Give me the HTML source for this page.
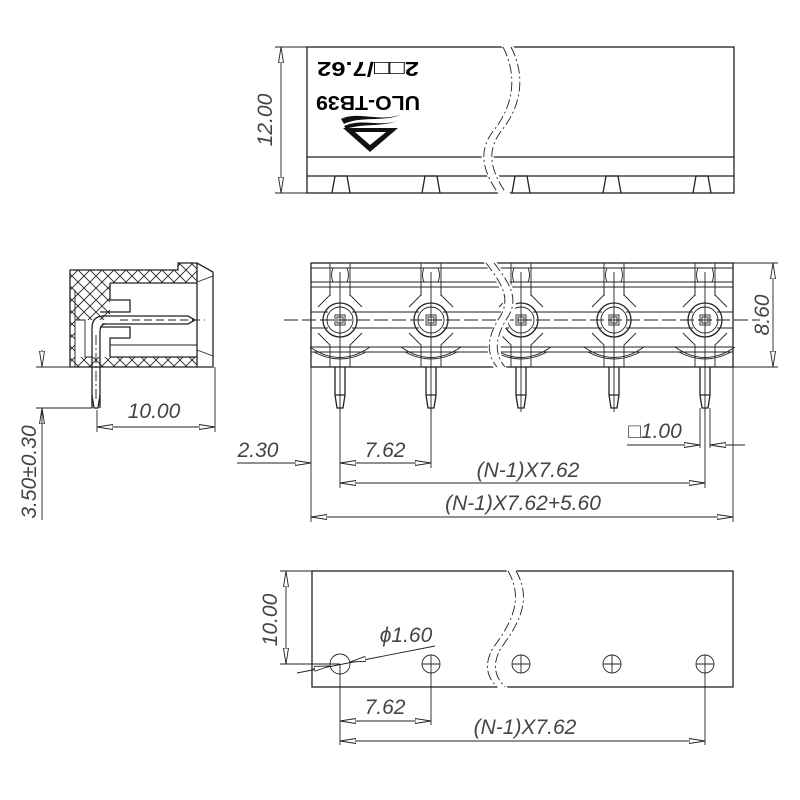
<!DOCTYPE html>
<html><head><meta charset="utf-8"><style>
html,body{margin:0;padding:0;background:#fff;}
svg{display:block;}
.l{stroke:#222;stroke-width:1.3;fill:none;}
.t{stroke:#222;stroke-width:0.9;fill:none;}
.d{font-family:"Liberation Sans",sans-serif;font-size:21px;fill:#444;font-style:italic;}
</style></head><body>
<svg width="800" height="800" viewBox="0 0 800 800" xmlns="http://www.w3.org/2000/svg">
<defs>
<marker id="a" viewBox="0 0 16 6" refX="16" refY="3" markerWidth="16" markerHeight="6" markerUnits="userSpaceOnUse" orient="auto-start-reverse">
<path d="M0,0.5 L16,3 L0,5.5 Z" fill="#fff" stroke="#222" stroke-width="0.9"/>
</marker>
<pattern id="h" width="12" height="12" patternUnits="userSpaceOnUse">
<path d="M0,0 L12,12 M12,0 L0,12" stroke="#222" stroke-width="0.9"/>
</pattern>
</defs>

<!-- TOP VIEW -->
<rect x="307" y="47" width="427" height="146" class="l"/>
<line x1="307" y1="157" x2="734" y2="157" class="l"/>
<line x1="307" y1="176" x2="734" y2="176" class="l"/>
<g class="l">
<path d="M332,193 L335,176 L347,176 L350,193"/>
<path d="M422,193 L425,176 L437,176 L440,193"/>
<path d="M512,193 L515,176 L527,176 L530,193"/>
<path d="M603,193 L606,176 L618,176 L621,193"/>
<path d="M693,193 L696,176 L708,176 L711,193"/>
</g>
<path d="M500,44 C525,80 510,110 492,130 C475,150 480,170 500,196 L512,196 C492,170 487,150 504,130 C522,110 537,80 512,44 Z" fill="#fff" stroke="none"/>
<path d="M503,47 C520,80 510,110 494,130 C478,150 482,170 498,193" class="t" stroke-dasharray="10,3,2,3"/>
<path d="M511,47 C528,80 518,110 502,130 C486,150 490,170 506,193" class="t" stroke-dasharray="10,3,2,3"/>
<line x1="275" y1="47" x2="307" y2="47" class="t"/>
<line x1="275" y1="193" x2="307" y2="193" class="t"/>
<line x1="281" y1="47" x2="281" y2="193" class="t" marker-start="url(#a)" marker-end="url(#a)"/>
<text class="d" transform="translate(272,120) rotate(-90)" text-anchor="middle" font-style="normal">12.00</text>
<g transform="rotate(180 368 86)">
<text x="368" y="76" text-anchor="middle" font-family="Liberation Sans,sans-serif" font-weight="bold" font-size="20" textLength="104" lengthAdjust="spacingAndGlyphs">ULO-TB39</text>
<text x="368" y="110" text-anchor="middle" font-family="Liberation Sans,sans-serif" font-weight="bold" font-size="20" textLength="102" lengthAdjust="spacingAndGlyphs">2□□/7.62</text>
</g>
<g fill="#111">
<path d="M343,128 L398,128 L370,152 Z M355,132 L386,132 L370,145 Z" fill-rule="evenodd"/>
<path d="M341,119 C358,111 378,122 400,115 C384,122 360,116 344,124 Z"/>
<path d="M344,126 C362,118 378,127 398,121 C382,127 362,123 346,129 Z"/>
</g>

<!-- SIDE VIEW -->
<path d="M70,270 L178,270 L178,263 L197,263 L197,367 L70,367 Z" fill="url(#h)" stroke="none"/>
<rect x="110" y="283" width="87" height="74" fill="#fff"/>
<rect x="75" y="320" width="35" height="37" fill="#fff"/>
<path d="M70,270 L178,270 L178,263 L197,263 L213,272 L213,367 L70,367 Z" class="l"/>
<line x1="197" y1="263" x2="197" y2="367" class="l"/>
<path d="M110,283 L197,283 M110,357 L197,357 M110,283 L110,300 L130,300 L130,312 L100,312" class="l"/>
<path d="M100,327 L130,327 L130,338 L110,338 L110,357" class="l"/>
<path d="M75,290 L75,367 M75,320 L85,320 L85,357 L92,357" class="t"/>
<path d="M110,345 L197,345 M197,282 L213,276 M197,350 L213,356" class="t"/>
<path d="M102,316 L188,316 L195,320 L188,324 L102,324" class="l" fill="#fff"/>
<path d="M92,408 L92,328 Q92,316 104,316 M100,408 L100,332 Q100,324 106,324" class="l"/>
<path d="M92,395 L94,408 L98,408 L100,395" class="l"/>
<line x1="120" y1="320" x2="205" y2="320" class="t" stroke-dasharray="8,4"/>
<line x1="96" y1="335" x2="96" y2="400" class="t" stroke-dasharray="10,3,2,3"/>
<line x1="36" y1="367" x2="70" y2="367" class="t"/>
<line x1="36" y1="408" x2="92" y2="408" class="t"/>
<line x1="42" y1="350" x2="42" y2="367" class="t" marker-end="url(#a)"/>
<line x1="42" y1="425" x2="42" y2="408" class="t" marker-end="url(#a)"/>
<line x1="42" y1="408" x2="42" y2="520" class="t"/>
<text class="d" transform="translate(36,472) rotate(-90)" text-anchor="middle">3.50±0.30</text>
<line x1="97" y1="410" x2="97" y2="432" class="t"/>
<line x1="215" y1="367" x2="215" y2="432" class="t"/>
<line x1="97" y1="427" x2="215" y2="427" class="t" marker-start="url(#a)" marker-end="url(#a)"/>
<text class="d" x="154" y="418" text-anchor="middle">10.00</text>

<!-- FRONT VIEW -->
<rect x="311" y="263" width="422" height="104" class="l"/>
<g class="t">
<line x1="311" y1="268" x2="733" y2="268"/>
<line x1="311" y1="282" x2="733" y2="282"/>
<line x1="311" y1="287" x2="733" y2="287"/>
<line x1="311" y1="312" x2="733" y2="312"/>
<line x1="311" y1="328" x2="733" y2="328"/>
<line x1="311" y1="347" x2="733" y2="347"/>
<line x1="311" y1="352" x2="733" y2="352"/>
</g>
<g id="p1">
<path d="M330,263 L330,295 L318,307 M350,263 L350,295 L362,307 M318,333 L330,345 L330,367 M362,333 L350,345 L350,367" class="t" fill="none"/>
<rect x="328" y="298" width="24" height="44" fill="#fff"/>
<path d="M330,287 L330,296 M350,287 L350,296" class="t"/>
<path d="M310,347 Q340,368 370,347 M314,352 Q340,366 366,352" class="t" fill="#fff"/>
<circle cx="340" cy="320" r="17" class="l" fill="#fff"/>
<circle cx="340" cy="320" r="13" class="t"/>
<rect x="335" y="315" width="10" height="10" class="t"/>
<rect x="337" y="317" width="6" height="6" class="t"/>
<path d="M335,367 L335,395 L337,408 L343,408 L345,395 L345,367 M335,395 L345,395" class="l" fill="#fff"/>
<line x1="340" y1="272" x2="340" y2="412" class="t"/>
<path d="M333,268 Q330,275 333,282 M347,268 Q350,275 347,282" class="t"/>
</g>
<use href="#p1" x="91"/>
<use href="#p1" x="181"/>
<use href="#p1" x="274"/>
<use href="#p1" x="365"/>
<line x1="284" y1="320" x2="760" y2="320" class="t" stroke-dasharray="14,4"/>
<path d="M482,260 C500,285 510,300 497,320 C485,340 485,355 495,370 L508,370 C498,355 498,340 510,320 C523,300 513,285 495,260 Z" fill="#fff"/>
<path d="M486,263 C503,285 512,300 498,320 C486,340 487,355 497,367" class="t" stroke-dasharray="10,3,2,3"/>
<path d="M494,263 C511,285 520,300 506,320 C494,340 495,355 505,367" class="t" stroke-dasharray="10,3,2,3"/>
<line x1="733" y1="263" x2="778" y2="263" class="t"/>
<line x1="733" y1="367" x2="778" y2="367" class="t"/>
<line x1="773" y1="263" x2="773" y2="367" class="t" marker-start="url(#a)" marker-end="url(#a)"/>
<text class="d" transform="translate(769,315) rotate(-90)" text-anchor="middle">8.60</text>
<!-- dims -->
<g class="t">
<line x1="311" y1="367" x2="311" y2="522"/>
<line x1="733" y1="367" x2="733" y2="522"/>
<line x1="340" y1="408" x2="340" y2="488"/>
<line x1="431" y1="408" x2="431" y2="468"/>
<line x1="705" y1="408" x2="705" y2="488"/>
<line x1="700" y1="408" x2="700" y2="448"/>
<line x1="710" y1="408" x2="710" y2="448"/>
</g>
<line x1="237" y1="463" x2="311" y2="463" class="t" marker-end="url(#a)"/>
<line x1="340" y1="463" x2="431" y2="463" class="t" marker-start="url(#a)" marker-end="url(#a)"/>
<line x1="627" y1="445" x2="700" y2="445" class="t" marker-end="url(#a)"/>
<line x1="745" y1="445" x2="710" y2="445" class="t" marker-end="url(#a)"/>
<line x1="340" y1="483" x2="705" y2="483" class="t" marker-start="url(#a)" marker-end="url(#a)"/>
<line x1="311" y1="517" x2="733" y2="517" class="t" marker-start="url(#a)" marker-end="url(#a)"/>
<text class="d" x="258" y="457" text-anchor="middle">2.30</text>
<text class="d" x="385" y="457" text-anchor="middle">7.62</text>
<text class="d" x="655" y="438" text-anchor="middle">□1.00</text>
<text class="d" x="528" y="477" text-anchor="middle">(N-1)X7.62</text>
<text class="d" x="523" y="510" text-anchor="middle">(N-1)X7.62+5.60</text>

<!-- BOTTOM VIEW -->
<rect x="312" y="571" width="421" height="116" class="l"/>
<path d="M505,568 C525,600 510,625 495,645 C485,660 485,675 500,690 L510,690 C495,675 495,660 505,645 C520,625 535,600 515,568 Z" fill="#fff"/>
<path d="M508,571 C525,600 510,625 493,648 C485,662 485,675 497,687" class="t" stroke-dasharray="10,3,2,3"/>
<path d="M516,571 C533,600 518,625 501,648 C493,662 493,675 505,687" class="t" stroke-dasharray="10,3,2,3"/>
<g class="t">
<circle cx="340" cy="664" r="10"/>
<circle cx="431" cy="664" r="9"/><path d="M422,664 L440,664 M431,655 L431,673"/>
<circle cx="521" cy="664" r="9"/><path d="M512,664 L530,664 M521,655 L521,673"/>
<circle cx="612" cy="664" r="9"/><path d="M603,664 L621,664 M612,655 L612,673"/>
<circle cx="705" cy="664" r="9"/><path d="M696,664 L714,664 M705,655 L705,673"/>
<line x1="280" y1="571" x2="312" y2="571"/>
<line x1="280" y1="664" x2="340" y2="664"/>
<line x1="297" y1="673" x2="435" y2="646"/>
<line x1="340" y1="664" x2="340" y2="745"/>
<line x1="431" y1="673" x2="431" y2="725"/>
<line x1="705" y1="673" x2="705" y2="745"/>
</g>
<line x1="286" y1="571" x2="286" y2="664" class="t" marker-start="url(#a)" marker-end="url(#a)"/>
<line x1="313" y1="669" x2="330" y2="666" class="t" marker-end="url(#a)"/>
<line x1="365" y1="659" x2="350" y2="662" class="t" marker-end="url(#a)"/>
<line x1="340" y1="721" x2="431" y2="721" class="t" marker-start="url(#a)" marker-end="url(#a)"/>
<line x1="340" y1="741" x2="705" y2="741" class="t" marker-start="url(#a)" marker-end="url(#a)"/>
<text class="d" transform="translate(277,620) rotate(-90)" text-anchor="middle">10.00</text>
<text class="d" x="406" y="642" text-anchor="middle">ϕ1.60</text>
<text class="d" x="385" y="714" text-anchor="middle">7.62</text>
<text class="d" x="525" y="734" text-anchor="middle">(N-1)X7.62</text>
</svg>
</body></html>
